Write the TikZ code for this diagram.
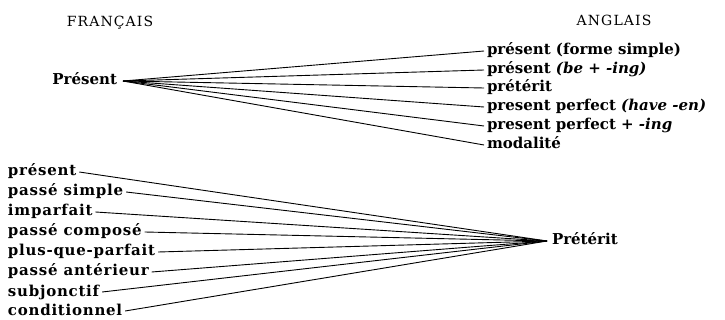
\documentclass[tikz,border=0pt]{standalone}
\usepackage{fontspec}
\setmainfont{DejaVu Serif}
\newfontfamily\headfont[LetterSpace=8]{DejaVu Serif}
\newfontfamily\widefont[LetterSpace=5]{DejaVu Serif}
\begin{document}
\begin{tikzpicture}[x=1pt,y=-1pt,
  lab/.style={font=\fontsize{15}{18}\selectfont\bfseries, inner xsep=3pt, inner ysep=0pt, outer sep=0pt, text height=11pt, text depth=3pt},
  wlab/.style={lab, font=\fontsize{15}{18}\selectfont\widefont\bfseries},
  head/.style={font=\fontsize{14}{16}\selectfont\headfont, inner sep=0pt},
  ln/.style={line width=0.9pt}]
\useasboundingbox (0,0) rectangle (725,320);
\node[head] (fr) at (110,23) {FRANÇAIS};
\node[head] (an) at (614,20) {ANGLAIS};
% top fan
\node[lab, anchor=east] (pres) at (120,81) {Présent};
\coordinate (t1) at (123,81);
\node[lab, anchor=west] (r1) at (484,51) {présent (forme simple)};
\node[lab, anchor=west] (r2) at (484,70) {présent \textit{(be + -ing)}};
\node[lab, anchor=west] (r3) at (484,88) {prétérit};
\node[lab, anchor=west] (r4) at (484,107) {present perfect \textit{(have -en)}};
\node[lab, anchor=west] (r5) at (484,126) {present perfect + \textit{-ing}};
\node[lab, anchor=west] (r6) at (484,145) {modalité};
\foreach \r in {r1,r2,r3,r4,r5,r6} \draw[ln] (t1) -- (\r.west);
% bottom fan
\node[lab, anchor=west] (p) at (549,241) {Prétérit};
\coordinate (t2) at (547,241);
\node[wlab, anchor=west] (l1) at (5,172) {présent};
\node[wlab, anchor=west] (l2) at (5,192) {passé simple};
\node[wlab, anchor=west] (l3) at (5,212) {imparfait};
\node[wlab, anchor=west] (l4) at (5,232) {passé composé};
\node[wlab, anchor=west] (l5) at (5,252) {plus-que-parfait};
\node[wlab, anchor=west] (l6) at (5,272) {passé antérieur};
\node[wlab, anchor=west] (l7) at (5,292) {subjonctif};
\node[wlab, anchor=west] (l8) at (5,311) {conditionnel};
\foreach \l in {l1,l2,l3,l4,l5,l6,l7,l8} \draw[ln] (\l.east) -- (t2);
\end{tikzpicture}
\end{document}
